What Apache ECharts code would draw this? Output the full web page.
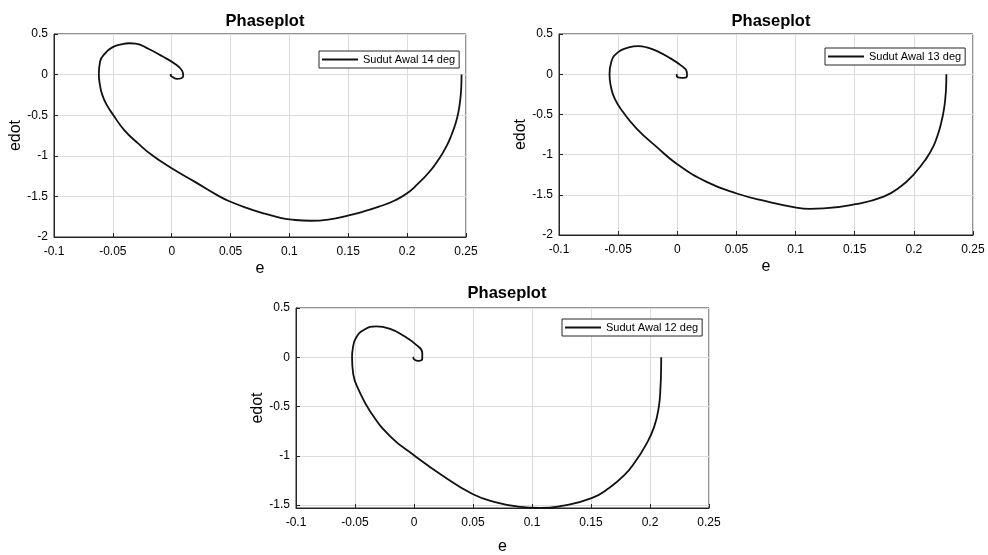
<!DOCTYPE html>
<html><head><meta charset="utf-8">
<script src="https://cdn.jsdelivr.net/npm/echarts@6/dist/echarts.min.js"></script>
<style>html,body{margin:0;padding:0;background:#fff}#c{width:988px;height:555px}</style>
</head><body><div id="c"></div>
<script>
// ---- data ----
const plotTitles = ['Phaseplot', 'Phaseplot', 'Phaseplot'];
const seriesNames = ['Sudut Awal 14 deg', 'Sudut Awal 13 deg', 'Sudut Awal 12 deg'];
const xAxisName = 'e';
const yAxisName = 'edot';
const xRange = [-0.1, 0.25];
const xStep = 0.05;
const yRange14 = [-2, 0.5];
const yRange13 = [-2, 0.5];
const yRange12 = [-1.53, 0.5];

// [e, edot] pairs
const phase14 = [
  [0.2462,0],[0.2460,-0.15],[0.2452,-0.3],[0.2437,-0.45],[0.2412,-0.6],[0.2375,-0.75],
  [0.2328,-0.9],[0.2265,-1.05],[0.2188,-1.2],[0.2088,-1.35],[0.2000,-1.462],[0.1895,-1.55],
  [0.1760,-1.627],[0.1620,-1.69],[0.1504,-1.735],[0.133,-1.785],[0.118,-1.800],[0.1,-1.783],
  [0.0924,-1.764],[0.078,-1.709],[0.065,-1.648],[0.05,-1.566],[0.0405,-1.5],[0.0194,-1.318],
  [0,-1.153],[-0.016,-1.0],[-0.0288,-0.844],[-0.0405,-0.68],[-0.0495,-0.5],[-0.0553,-0.37],
  [-0.0590,-0.25],[-0.0610,-0.124],[-0.0619,0],[-0.0608,0.164],[-0.0562,0.268],[-0.0505,0.335],
  [-0.043,0.372],[-0.036,0.386],[-0.0307,0.381],[-0.0195,0.315],[-0.008,0.226],[0.0032,0.128],
  [0.0089,0.045],[0.0098,-0.015],[0.0080,-0.045],[0.0045,-0.052],[0.001,-0.032],[-0.001,-0.008],[0,0]
];
const phase13 = [
  [0.2275,0],[0.2273,-0.15],[0.2266,-0.3],[0.2253,-0.45],[0.2232,-0.6],[0.2203,-0.75],
  [0.2164,-0.9],[0.2105,-1.05],[0.2005,-1.236],[0.1886,-1.401],[0.1745,-1.522],[0.1505,-1.617],
  [0.1237,-1.670],[0.1124,-1.675],[0.1005,-1.660],[0.0757,-1.583],[0.0503,-1.484],[0.0248,-1.339],
  [0,-1.119],[-0.0175,-0.904],[-0.0344,-0.676],[-0.0460,-0.468],[-0.0530,-0.30],[-0.0562,-0.15],
  [-0.0573,0],[-0.0558,0.153],[-0.0500,0.275],[-0.0410,0.333],[-0.0330,0.350],[-0.0250,0.330],
  [-0.0175,0.290],[-0.0062,0.200],[0.0030,0.110],[0.0080,0.032],[0.0082,-0.022],[0.0055,-0.045],
  [0.0020,-0.042],[-0.0005,-0.018],[0,0]
];
const phase12 = [
  [0.2095,0],[0.2094,-0.12],[0.2089,-0.3],[0.2075,-0.5],[0.2035,-0.707],[0.1960,-0.9],
  [0.1875,-1.06],[0.1780,-1.2],[0.1650,-1.33],[0.1505,-1.43],[0.1270,-1.505],[0.1070,-1.528],
  [0.0880,-1.515],[0.0705,-1.475],[0.0500,-1.39],[0.0240,-1.2],[0,-0.995],[-0.0197,-0.807],
  [-0.0367,-0.557],[-0.0465,-0.34],[-0.0515,-0.17],[-0.0525,0],[-0.0518,0.093],[-0.0490,0.2],
  [-0.0423,0.28],[-0.0320,0.313],[-0.0197,0.285],[-0.0085,0.215],[0.0014,0.131],[0.0070,0.045],
  [0.0070,-0.015],[0.0038,-0.036],[0.0005,-0.025],[-0.0006,-0.006],[0,0]
];

// ---- layout ----
const FONT = '"Liberation Sans", Arial, Helvetica, sans-serif';
const panels = [
  {grid:{left:54, top:34, width:412, height:203}, data:phase14, yr:yRange14, title:{x:260, y:8}, legend:{left:319, top:51}, nameGapX:24},
  {grid:{left:559, top:34, width:414, height:201}, data:phase13, yr:yRange13, title:{x:766, y:8}, legend:{left:825, top:48}, nameGapX:24},
  {grid:{left:296, top:308, width:413, height:200}, data:phase12, yr:yRange12, title:{x:502, y:280}, legend:{left:562, top:319}, nameGapX:31}
];

const option = {
  backgroundColor: '#fff',
  animation: false,
  title: [], legend: [], grid: [], xAxis: [], yAxis: [], series: []
};

panels.forEach((p, i) => {
  option.title.push({
    text: plotTitles[i], left: p.title.x, top: p.title.y, textAlign: 'center',
    textStyle: {fontFamily: FONT, fontSize: 16.5, fontWeight: 'bold', color: '#000'}
  });
  option.grid.push(Object.assign({show: true, borderColor: '#262626', borderWidth: 1, backgroundColor: '#fff', containLabel: false, outerBoundsMode: 'none'}, p.grid));
  option.legend.push({
    data: [seriesNames[i]], left: p.legend.left, top: p.legend.top, selectedMode: false,
    icon: 'rect', itemWidth: 36, itemHeight: 2,
    borderColor: '#262626', borderWidth: 1, borderRadius: 0, backgroundColor: '#fff',
    padding: [2, 4, 2, 3],
    textStyle: {fontFamily: FONT, fontSize: 11, color: '#000', lineHeight: 13}
  });
  option.xAxis.push({
    type: 'value', gridIndex: i, min: xRange[0], max: xRange[1], interval: xStep,
    name: xAxisName, nameLocation: 'middle', nameGap: p.nameGapX,
    nameTextStyle: {fontFamily: FONT, fontSize: 16, color: '#000'},
    axisLine: {show: true, onZero: false, lineStyle: {color: '#262626', width: 1}},
    axisTick: {show: true, inside: true, length: 4, lineStyle: {color: '#262626'}},
    axisLabel: {fontFamily: FONT, fontSize: 12, color: '#000', margin: 9},
    splitLine: {show: true, lineStyle: {color: '#dcdcdc', width: 1}}
  });
  const y = {
    type: 'value', gridIndex: i, min: p.yr[0], max: p.yr[1],
    name: yAxisName, nameLocation: 'middle', nameGap: 30, nameRotate: 90,
    nameTextStyle: {fontFamily: FONT, fontSize: 16, color: '#000'},
    axisLine: {show: true, onZero: false, lineStyle: {color: '#262626', width: 1}},
    axisTick: {show: true, inside: true, length: 4, lineStyle: {color: '#262626'}},
    axisLabel: {fontFamily: FONT, fontSize: 12, color: '#000', margin: 6},
    splitLine: {show: true, lineStyle: {color: '#dcdcdc', width: 1}}
  };
  if (i === 2) { y.splitNumber = 4; y.axisLabel.showMinLabel = false; }
  else { y.interval = 0.5; }
  option.yAxis.push(y);
  option.series.push({
    name: seriesNames[i], type: 'line', xAxisIndex: i, yAxisIndex: i,
    data: p.data, symbol: 'none', showSymbol: false, smooth: 0.5, clip: false,
    lineStyle: {color: '#111', width: 1.8}, itemStyle: {color: '#111'}
  });
});

const chart = echarts.init(document.getElementById('c'), null, {renderer: 'canvas'});
chart.setOption(option);
</script>
</body></html>
